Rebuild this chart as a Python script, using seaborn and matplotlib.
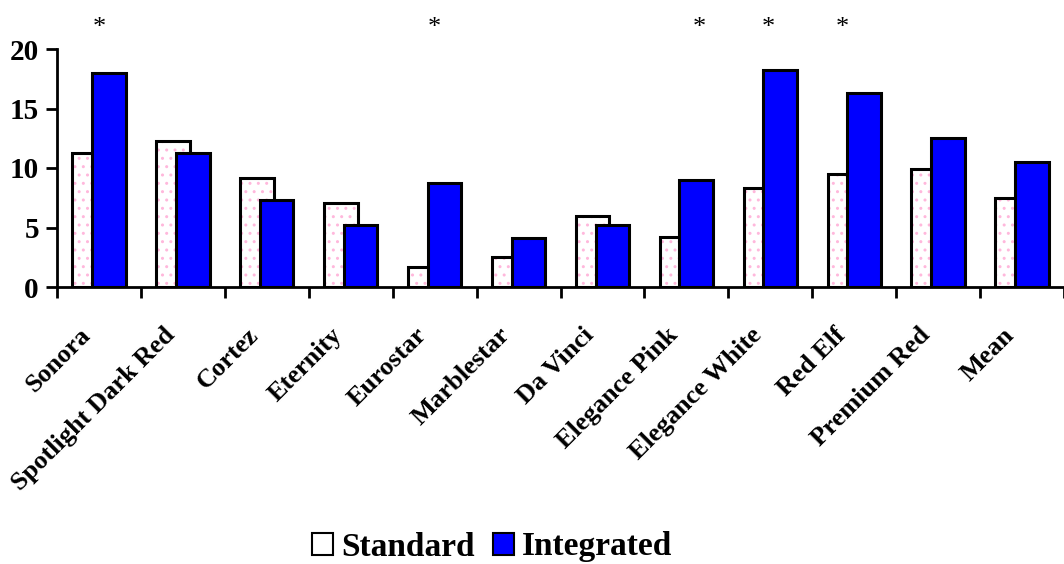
import numpy as np
import pandas as pd
import matplotlib
matplotlib.use("Agg")
import matplotlib.pyplot as plt
import matplotlib.transforms as mtransforms
from matplotlib.patches import Patch
import seaborn as sns

categories = ["Sonora", "Spotlight Dark Red", "Cortez", "Eternity", "Eurostar",
              "Marblestar", "Da Vinci", "Elegance Pink", "Elegance White",
              "Red Elf", "Premium Red", "Mean"]
standard = [11.3, 12.3, 9.2, 7.1, 1.7, 2.5, 6.0, 4.2, 8.3, 9.5, 9.9, 7.5]
integrated = [18.0, 11.3, 7.3, 5.2, 8.7, 4.1, 5.2, 9.0, 18.2, 16.3, 12.5, 10.5]
star_positions = [0.0, 4.0, 7.16, 7.98, 8.86]
yticks = [0, 5, 10, 15, 20]

sns.set_theme(style="white")
plt.rcParams["font.family"] = ["Liberation Serif", "DejaVu Serif"]
plt.rcParams["text.color"] = "black"
plt.rcParams["xtick.color"] = "black"
plt.rcParams["ytick.color"] = "black"
plt.rcParams["axes.labelcolor"] = "black"
plt.rcParams["hatch.linewidth"] = 1.0

fig = plt.figure(figsize=(10.64, 5.64), dpi=100)
ax = fig.add_axes([57/1064, 1-287/564, 1-57/1064, (287-49)/564])

idx = np.arange(len(categories))
off = 0.118
w = 0.40
df_s = pd.DataFrame({"x": idx - off, "y": standard})
df_i = pd.DataFrame({"x": idx + off, "y": integrated})

# standard bars: white with pink dots, black outline
sns.barplot(data=df_s, x="x", y="y", native_scale=True, width=w, ax=ax,
            color="white", edgecolor="#ffb8dc", linewidth=0, hatch="..",
            saturation=1, zorder=2)
sns.barplot(data=df_s, x="x", y="y", native_scale=True, width=w, ax=ax,
            fill=False, color="black", edgecolor="black", linewidth=2.2,
            zorder=3)
sns.barplot(data=df_i, x="x", y="y", native_scale=True, width=w, ax=ax,
            color="#0000ff", edgecolor="black", linewidth=2.2, saturation=1,
            zorder=4)

ax.set_xlim(-0.5, 11.5)
ax.set_ylim(0, 20)
ax.set_yticks(yticks)
ax.set_yticklabels([str(t) for t in yticks], fontsize=21, fontweight="bold")
ax.set_xticks(np.arange(-0.5, 12, 1.0))
ax.set_xticklabels([])
ax.set_xticks(idx, minor=True)
ax.set_xticklabels(categories, minor=True, rotation=45, ha="right", va="center",
                   rotation_mode="anchor", fontsize=19, fontweight="bold")
ax.tick_params(axis="x", which="minor", length=0, pad=32)
ax.tick_params(axis="x", which="major", length=8, width=2, direction="out",
               bottom=True, color="black")
ax.tick_params(axis="y", length=8, width=2, direction="out", left=True,
               color="black", pad=5)
shift = mtransforms.ScaledTranslation(-12/100, 0, fig.dpi_scale_trans)
for lab in ax.get_xticklabels(minor=True):
    lab.set_transform(lab.get_transform() + shift)
ax.set_xlabel("")
ax.set_ylabel("")
for s in ["top", "right"]:
    ax.spines[s].set_visible(False)
for s in ["left", "bottom"]:
    ax.spines[s].set_color("black")
    ax.spines[s].set_linewidth(2)
ax.grid(False)

for xp in star_positions:
    ax.text(xp, 21.8, "*", ha="center", va="center", fontsize=19,
            color="black", clip_on=False)

handles = [Patch(facecolor="white", edgecolor="black", linewidth=1.5),
           Patch(facecolor="#0000ff", edgecolor="black", linewidth=1.5)]
fig.legend(handles, ["Standard", "Integrated"], loc="center",
           bbox_to_anchor=(492/1064, 1-547/564), ncol=2, frameon=False,
           prop={"size": 24, "weight": "bold"}, handlelength=0.63,
           handleheight=0.63, handletextpad=0.24, columnspacing=0.54)

fig.savefig("out.png", dpi=100)
